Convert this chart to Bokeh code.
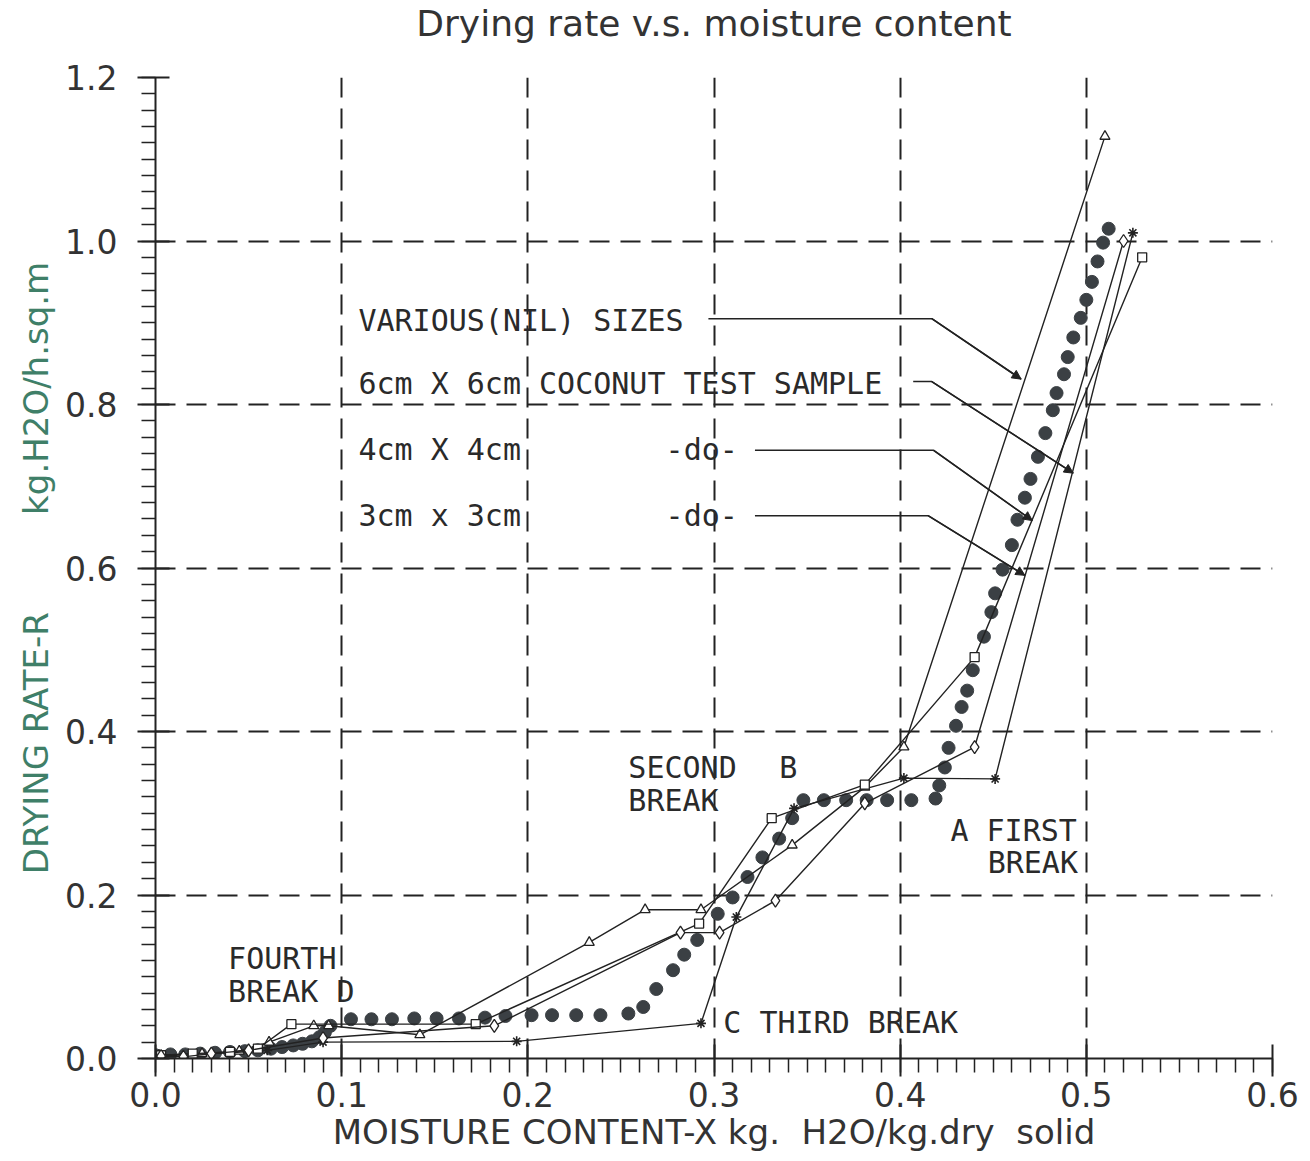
from bokeh.plotting import figure
from bokeh.models import Range1d, FixedTicker, PrintfTickFormatter, Arrow, NormalHead, Title
from bokeh.core.properties import value
from bokeh.embed import file_html
from bokeh.resources import INLINE

NB = "\u00a0"
TITLE = "Drying rate v.s. moisture content"
X_LABEL = "MOISTURE CONTENT-X kg." + NB * 2 + "H2O/kg.dry" + NB * 2 + "solid"
Y_LABEL = "DRYING RATE-R" + NB * 9 + "kg.H2O/h.sq.m"

x_ticks = [0.0, 0.1, 0.2, 0.3, 0.4, 0.5, 0.6]
y_ticks = [0.0, 0.2, 0.4, 0.6, 0.8, 1.0, 1.2]
x_minor = [round(i * 0.01, 2) for i in range(61)]
y_minor = [round(i * 0.02, 2) for i in range(61)]

# VARIOUS(NIL) SIZES  (open triangles)
tri_x = [0.002, 0.025, 0.045, 0.061, 0.085, 0.093, 0.142, 0.233, 0.263, 0.293, 0.342, 0.381, 0.402, 0.510]
tri_y = [0.004, 0.006, 0.009, 0.020, 0.040, 0.040, 0.029, 0.142, 0.182, 0.182, 0.261, 0.332, 0.381, 1.128]

# 6cm X 6cm coconut test sample (asterisks)
st_x = [0.003, 0.020, 0.040, 0.060, 0.090, 0.194, 0.293, 0.312, 0.343, 0.402, 0.451, 0.525]
st_y = [0.003, 0.005, 0.007, 0.010, 0.020, 0.021, 0.043, 0.173, 0.306, 0.343, 0.342, 1.010]

# 4cm X 4cm (open squares)
sq_x = [0.003, 0.020, 0.040, 0.055, 0.073, 0.172, 0.292, 0.331, 0.381, 0.440, 0.530]
sq_y = [0.004, 0.006, 0.008, 0.012, 0.042, 0.042, 0.165, 0.294, 0.335, 0.491, 0.980]

# 3cm x 3cm (open diamonds)
dia_x = [0.003, 0.015, 0.030, 0.050, 0.090, 0.182, 0.282, 0.303, 0.333, 0.381, 0.440, 0.520]
dia_y = [0.003, 0.002, 0.006, 0.010, 0.025, 0.040, 0.154, 0.154, 0.193, 0.312, 0.381, 1.000]

# big dotted curve (filled circles)
dot_x = [0.000, 0.008, 0.016, 0.024, 0.032, 0.040, 0.048, 0.055, 0.062, 0.068, 0.074, 0.079,
         0.084, 0.088, 0.091, 0.094,
         0.105, 0.116, 0.127, 0.139, 0.151, 0.163, 0.177, 0.188, 0.202, 0.213, 0.226, 0.239, 0.254,
         0.262, 0.269, 0.278, 0.284, 0.291, 0.302, 0.310, 0.318, 0.326, 0.335, 0.342, 0.348,
         0.359, 0.371, 0.382, 0.393, 0.406, 0.419,
         0.421, 0.424, 0.426, 0.430, 0.433, 0.436, 0.439, 0.445, 0.449, 0.451, 0.455, 0.460,
         0.463, 0.467, 0.470, 0.474, 0.478, 0.482, 0.484, 0.488, 0.490, 0.493, 0.497, 0.500,
         0.503, 0.506, 0.509, 0.512]
dot_y = [0.004, 0.005, 0.005, 0.006, 0.007, 0.008, 0.009, 0.010, 0.012, 0.014, 0.016, 0.018,
         0.021, 0.026, 0.032, 0.040,
         0.048, 0.048, 0.048, 0.049, 0.049, 0.049, 0.050, 0.052, 0.053, 0.053, 0.053, 0.053, 0.055,
         0.063, 0.085, 0.108, 0.127, 0.145, 0.177, 0.197, 0.222, 0.246, 0.269, 0.294, 0.316,
         0.316, 0.316, 0.316, 0.316, 0.316, 0.318,
         0.334, 0.356, 0.380, 0.407, 0.430, 0.450, 0.475, 0.516, 0.546, 0.569, 0.598, 0.628,
         0.659, 0.686, 0.709, 0.736, 0.765, 0.793, 0.814, 0.837, 0.858, 0.882, 0.906, 0.928,
         0.950, 0.975, 0.998, 1.015]

# annotation texts
note_text = ["VARIOUS(NIL) SIZES", "6cm X 6cm COCONUT TEST SAMPLE", "4cm X 4cm", "-do-",
             "3cm x 3cm", "-do-", "SECOND", "B", "BREAK", "A FIRST", "BREAK",
             "FOURTH", "BREAK D", "C THIRD BREAK"]
note_x = [0.109, 0.109, 0.109, 0.274, 0.109, 0.274, 0.254, 0.335, 0.254, 0.427, 0.447,
          0.039, 0.039, 0.305]
note_y = [0.903, 0.826, 0.745, 0.745, 0.664, 0.664, 0.356, 0.356, 0.316, 0.279, 0.240,
          0.122, 0.082, 0.044]

# leader lines from labels to curves
lead_x = [[0.297, 0.417, 0.465], [0.407, 0.417, 0.493], [0.322, 0.418, 0.471], [0.322, 0.415, 0.467]]
lead_y = [[0.905, 0.905, 0.831], [0.828, 0.828, 0.716], [0.744, 0.744, 0.658], [0.664, 0.664, 0.591]]

INK = "#222222"

p = figure(width=1310, height=1161, output_backend="svg", toolbar_location=None,
           x_range=Range1d(0, 0.6), y_range=Range1d(0, 1.2),
           min_border_left=155, min_border_right=38, min_border_top=77, min_border_bottom=103)
p.outline_line_color = None
p.background_fill_color = "white"
p.border_fill_color = "white"

# spacer panel next to the frame, then the real title above it
spacer = Title(text=NB, text_font_size="18px", standoff=12, align="center")
p.add_layout(spacer, "above")
main_title = Title(text=TITLE, text_font="DejaVu Sans", text_font_size="36px",
                   text_font_style="normal", text_color="#333333", align="center", standoff=0)
p.add_layout(main_title, "above")

for ax in (p.xaxis[0], p.yaxis[0]):
    ax.axis_line_width = 2
    ax.axis_line_color = INK
    ax.major_tick_line_width = 2
    ax.major_tick_line_color = INK
    ax.minor_tick_line_width = 1.5
    ax.minor_tick_line_color = INK
    ax.major_tick_in = 14
    ax.major_tick_out = 18
    ax.minor_tick_in = 0
    ax.minor_tick_out = 14
    ax.major_label_text_font = "DejaVu Sans"
    ax.major_label_text_font_size = "33px"
    ax.major_label_text_color = "#333333"
    ax.axis_label_text_font = "DejaVu Sans"
    ax.axis_label_text_font_size = "34px"
    ax.axis_label_text_font_style = "normal"
    ax.formatter = PrintfTickFormatter(format="%.1f")

p.xaxis.ticker = FixedTicker(ticks=x_ticks, minor_ticks=x_minor)
p.yaxis.ticker = FixedTicker(ticks=y_ticks, minor_ticks=y_minor)
p.xaxis.axis_label = X_LABEL
p.yaxis.axis_label = Y_LABEL
p.xaxis.axis_label_text_color = "#333333"
p.yaxis.axis_label_text_color = "#3f7f68"
p.xaxis.major_label_standoff = 5
p.yaxis.major_label_standoff = 20
p.xaxis.axis_label_standoff = 2
p.yaxis.axis_label_standoff = 6

p.xgrid.ticker = FixedTicker(ticks=x_ticks[1:])
p.ygrid.ticker = FixedTicker(ticks=y_ticks[1:])
for g in (p.xgrid[0], p.ygrid[0]):
    g.grid_line_color = INK
    g.grid_line_width = 2
    g.grid_line_dash = "20 11"
    g.grid_line_alpha = 1.0

# dotted curve
p.scatter(dot_x, dot_y, marker="circle", size=13, fill_color="#3b4044", line_color="#3b4044")

# series lines with markers
p.line(tri_x, tri_y, line_color=INK, line_width=1.4)
p.scatter(tri_x, tri_y, marker="triangle", size=10, fill_color="white", line_color=INK, line_width=1.3)

p.line(st_x, st_y, line_color=INK, line_width=1.4)
p.scatter(st_x, st_y, marker="asterisk", size=10, line_color=INK, line_width=1.6)

p.line(sq_x, sq_y, line_color=INK, line_width=1.4)
p.scatter(sq_x, sq_y, marker="square", size=9, fill_color="white", line_color=INK, line_width=1.3)

p.line(dia_x, dia_y, line_color=INK, line_width=1.4)
p.scatter(dia_x, dia_y, marker="diamond", size=13, fill_color="white", line_color=INK, line_width=1.3)

# leaders
p.multi_line(lead_x, lead_y, line_color=INK, line_width=1.5)
for lx, ly in zip(lead_x, lead_y):
    p.add_layout(Arrow(end=NormalHead(size=9, fill_color=INK, line_color=INK),
                       x_start=lx[1], y_start=ly[1], x_end=lx[2], y_end=ly[2],
                       line_color=INK, line_width=1.5))

# annotation text
p.text(note_x, note_y, text=note_text, text_font=value("DejaVu Sans Mono"),
       text_font_size="30px", text_color="#2a2a2a", text_align="left", text_baseline="middle")

open("out.html", "w").write(file_html(p, INLINE))
